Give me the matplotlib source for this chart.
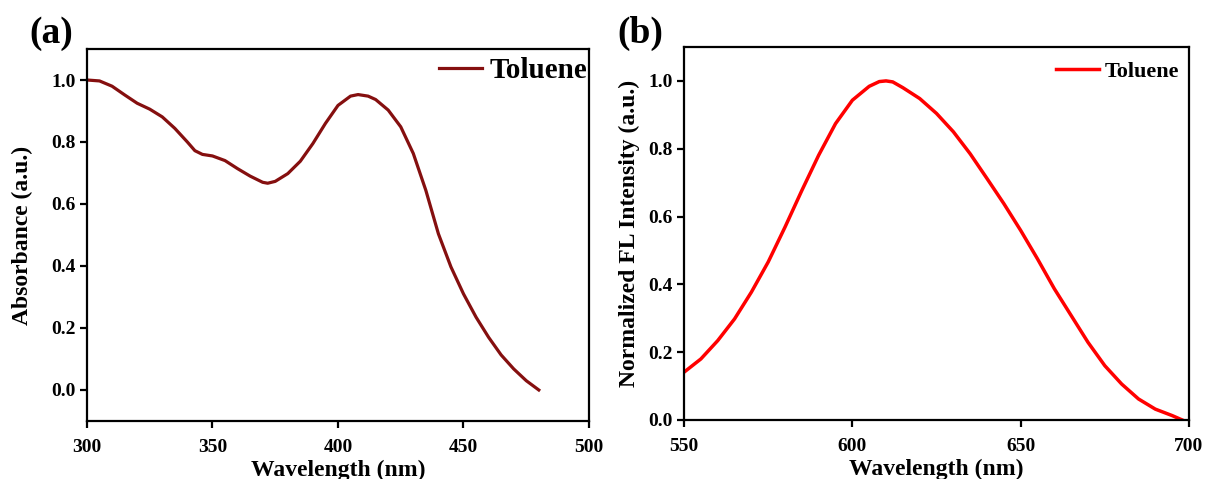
import matplotlib
matplotlib.use("Agg")
import matplotlib.pyplot as plt
import numpy as np

plt.rcParams['font.family'] = ['Liberation Serif', 'DejaVu Serif']
plt.rcParams['font.weight'] = 'bold'

# (a) absorbance in toluene
abs_wl = [300, 305, 310, 315, 320, 325, 330, 335, 340, 343, 346, 350, 355, 360,
          365, 370, 372, 375, 380, 385, 390, 395, 400, 405, 408, 412, 415, 420,
          425, 430, 435, 440, 445, 450, 455, 460, 465, 470, 475, 480]
abs_val = [1.0, 0.997, 0.98, 0.952, 0.925, 0.906, 0.881, 0.844, 0.80, 0.772,
           0.76, 0.755, 0.74, 0.714, 0.69, 0.670, 0.667, 0.673, 0.698, 0.738,
           0.795, 0.86, 0.918, 0.948, 0.953, 0.948, 0.937, 0.903, 0.849, 0.763,
           0.644, 0.504, 0.397, 0.31, 0.235, 0.17, 0.113, 0.068, 0.03, 0.0]

# (b) normalized fluorescence in toluene
fl_wl = [550, 555, 560, 565, 570, 575, 580, 585, 590, 595, 600, 605, 608, 610,
         612, 615, 620, 625, 630, 635, 640, 645, 650, 655, 660, 665, 670, 675,
         680, 685, 690, 695, 698]
fl_val = [0.141, 0.18, 0.234, 0.298, 0.377, 0.466, 0.569, 0.677, 0.781, 0.874,
          0.943, 0.984, 0.998, 1.0, 0.997, 0.98, 0.948, 0.904, 0.85, 0.785,
          0.712, 0.638, 0.559, 0.475, 0.387, 0.308, 0.229, 0.16, 0.106, 0.062,
          0.032, 0.013, 0.0]

fig = plt.figure(figsize=(12.06, 4.79), dpi=100)
ax1 = fig.add_axes([0.0721, 0.1211, 0.4163, 0.7766])
ax2 = fig.add_axes([0.5672, 0.1232, 0.4187, 0.7787])


def style(ax):
    for s in ax.spines.values():
        s.set_linewidth(1.6)
    ax.tick_params(direction='out', length=5, width=1.6, labelsize=14,
                   top=False, right=False)
    ax.tick_params(axis='x', pad=8)
    ax.tick_params(axis='y', pad=3)
    for lab in ax.get_xticklabels() + ax.get_yticklabels():
        lab.set_fontweight('bold')


# panel a
ax1.plot(abs_wl, abs_val, color='#850f0f', lw=2.3, label='Toluene')
ax1.set_xlim(300, 500)
ax1.set_ylim(-0.1, 1.1)
ax1.set_xticks([300, 350, 400, 450, 500])
ax1.set_yticks([0.0, 0.2, 0.4, 0.6, 0.8, 1.0])
ax1.set_xlabel('Wavelength (nm)', fontsize=17, fontweight='bold', labelpad=3)
ax1.set_ylabel('Absorbance (a.u.)', fontsize=17, fontweight='bold', labelpad=13)
style(ax1)
ax1.legend(loc='upper right', frameon=False, prop={'size': 21, 'weight': 'bold'},
           handlelength=1.5, handletextpad=0.25, borderaxespad=0.0,
           bbox_to_anchor=(1.02, 1.01))

# panel b
ax2.plot(fl_wl, fl_val, color='#ff0000', lw=2.5, label='Toluene')
ax2.set_xlim(550, 700)
ax2.set_ylim(0.0, 1.1)
ax2.set_xticks([550, 600, 650, 700])
ax2.set_yticks([0.0, 0.2, 0.4, 0.6, 0.8, 1.0])
ax2.set_xlabel('Wavelength (nm)', fontsize=17, fontweight='bold', labelpad=3)
ax2.set_ylabel('Normalized FL Intensity (a.u.)', fontsize=17, fontweight='bold',
               labelpad=6)
style(ax2)
ax2.legend(loc='upper right', frameon=False, prop={'size': 16, 'weight': 'bold'},
           handlelength=1.95, handletextpad=0.25, borderaxespad=0.0,
           bbox_to_anchor=(0.998, 0.985))

fig.text(0.024, 0.966, '(a)', fontsize=27, fontweight='bold', va='top')
fig.text(0.512, 0.966, '(b)', fontsize=27, fontweight='bold', va='top')

fig.savefig('out.png', dpi=100, facecolor='white')
